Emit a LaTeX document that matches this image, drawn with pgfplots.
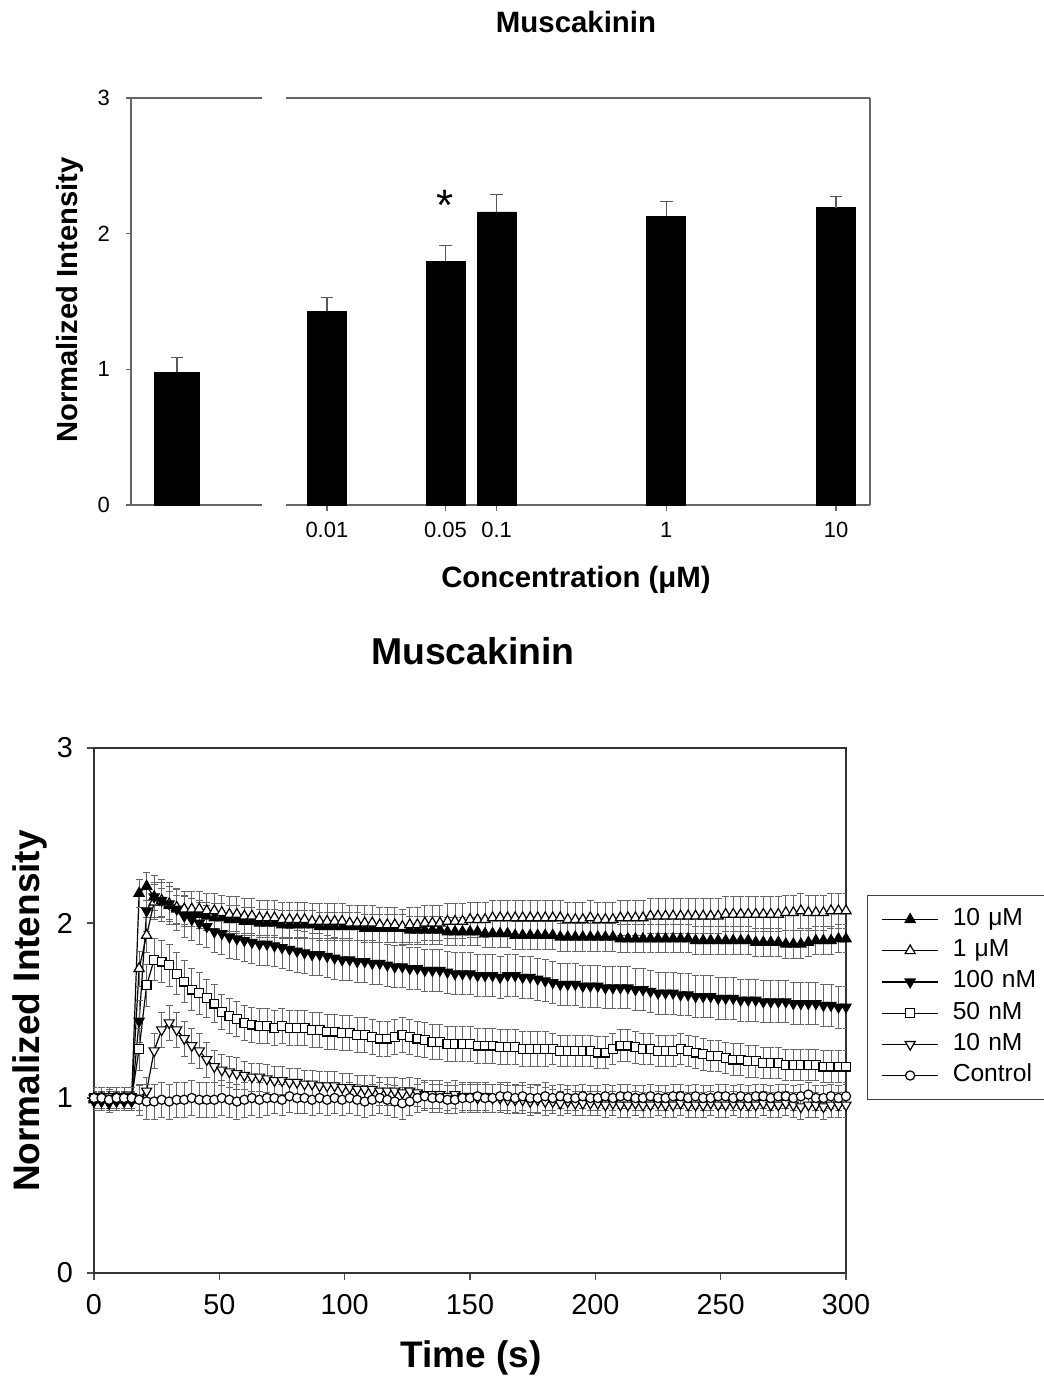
\documentclass[border=0pt]{standalone}
\usepackage{fontspec}
\setmainfont{Liberation Sans}
\usepackage{pgfplots}
\usepackage{pgfplotstable}
\pgfplotsset{compat=1.18}

\pgfplotstableread{
x y e
0.01 1.43 0.10
0.05 1.795 0.115
0.1 2.16 0.13
1 2.13 0.105
10 2.19 0.085
}\bars

\pgfplotstableread{
t c ce a ae b be d de u ue v ve
0 1.00 0.06 1.00 0.06 1.00 0.06 0.98 0.05 1.00 0.06 0.99 0.05
3 1.00 0.06 1.00 0.06 1.00 0.06 0.98 0.05 1.00 0.06 0.99 0.05
6 0.99 0.06 1.00 0.06 1.00 0.06 0.97 0.05 1.00 0.06 0.99 0.05
9 1.00 0.06 1.00 0.06 1.00 0.06 0.98 0.05 1.00 0.06 0.99 0.05
12 1.00 0.06 1.00 0.06 1.00 0.06 0.98 0.05 1.00 0.06 0.99 0.05
15 1.00 0.06 1.00 0.06 1.00 0.06 0.98 0.05 1.00 0.06 0.99 0.05
18 0.99 0.09 1.00 0.07 1.28 0.12 1.44 0.12 1.74 0.10 2.17 0.08
21 0.98 0.10 1.04 0.08 1.645 0.12 2.07 0.12 1.93 0.10 2.21 0.08
24 0.98 0.10 1.27 0.10 1.79 0.12 2.15 0.12 2.12 0.10 2.15 0.08
27 0.99 0.10 1.39 0.10 1.78 0.12 2.13 0.12 2.13 0.10 2.12 0.08
30 0.98 0.10 1.43 0.10 1.76 0.12 2.11 0.12 2.11 0.10 2.10 0.08
33 0.99 0.10 1.39 0.10 1.71 0.12 2.08 0.12 2.09 0.10 2.08 0.08
36 0.99 0.10 1.34 0.10 1.665 0.12 2.04 0.12 2.08 0.10 2.07 0.08
39 1.00 0.10 1.30 0.10 1.62 0.12 2.02 0.12 2.08 0.10 2.06 0.08
42 0.99 0.10 1.27 0.10 1.60 0.12 2.00 0.12 2.08 0.10 2.05 0.08
45 0.99 0.10 1.22 0.10 1.57 0.11 1.98 0.12 2.07 0.10 2.04 0.08
48 0.99 0.10 1.18 0.09 1.54 0.11 1.95 0.12 2.07 0.10 2.03 0.08
51 1.00 0.10 1.16 0.09 1.49 0.10 1.94 0.12 2.06 0.10 2.03 0.08
54 0.99 0.10 1.15 0.09 1.47 0.10 1.92 0.12 2.05 0.10 2.02 0.08
57 0.98 0.10 1.14 0.09 1.45 0.10 1.91 0.12 2.05 0.10 2.02 0.08
60 0.99 0.10 1.13 0.08 1.43 0.10 1.90 0.12 2.04 0.10 2.01 0.08
63 1.00 0.10 1.12 0.08 1.42 0.10 1.89 0.12 2.04 0.10 2.01 0.08
66 0.99 0.10 1.12 0.08 1.41 0.10 1.88 0.12 2.03 0.10 2.00 0.08
69 1.00 0.10 1.11 0.08 1.41 0.10 1.88 0.12 2.03 0.10 2.00 0.08
72 1.00 0.09 1.10 0.08 1.40 0.10 1.87 0.12 2.03 0.10 2.00 0.08
75 0.99 0.09 1.10 0.08 1.41 0.10 1.86 0.12 2.02 0.10 1.99 0.08
78 1.01 0.09 1.09 0.08 1.40 0.10 1.85 0.12 2.02 0.10 1.99 0.08
81 1.00 0.09 1.09 0.08 1.40 0.10 1.84 0.12 2.02 0.10 1.99 0.08
84 1.00 0.09 1.08 0.08 1.40 0.10 1.83 0.12 2.02 0.10 1.99 0.08
87 0.99 0.09 1.08 0.08 1.39 0.10 1.82 0.12 2.01 0.10 1.99 0.08
90 1.00 0.09 1.07 0.08 1.39 0.10 1.82 0.12 2.01 0.10 1.98 0.08
93 0.99 0.09 1.07 0.08 1.38 0.10 1.81 0.12 2.01 0.10 1.98 0.08
96 1.00 0.09 1.07 0.08 1.38 0.10 1.80 0.12 2.01 0.10 1.98 0.08
99 0.99 0.09 1.06 0.08 1.37 0.10 1.79 0.12 2.01 0.10 1.98 0.08
102 1.00 0.09 1.06 0.08 1.37 0.10 1.79 0.12 2.00 0.10 1.98 0.08
105 0.99 0.09 1.05 0.08 1.36 0.10 1.78 0.12 2.00 0.10 1.98 0.08
108 0.98 0.09 1.05 0.08 1.36 0.10 1.78 0.12 2.00 0.10 1.97 0.08
111 0.99 0.09 1.05 0.08 1.35 0.10 1.77 0.12 2.00 0.10 1.97 0.08
114 1.00 0.09 1.04 0.08 1.34 0.10 1.77 0.12 1.99 0.10 1.97 0.08
117 0.99 0.09 1.04 0.08 1.34 0.10 1.76 0.12 1.99 0.10 1.97 0.08
120 0.98 0.09 1.04 0.08 1.35 0.10 1.75 0.12 1.99 0.10 1.97 0.08
123 0.97 0.09 1.03 0.08 1.36 0.10 1.75 0.12 1.98 0.10 1.97 0.08
126 0.98 0.08 1.04 0.08 1.35 0.10 1.74 0.12 1.99 0.10 1.96 0.08
129 1.00 0.08 1.03 0.08 1.34 0.10 1.74 0.12 1.99 0.10 1.96 0.08
132 1.01 0.08 1.02 0.08 1.33 0.10 1.73 0.12 2.00 0.10 1.96 0.08
135 1.00 0.08 1.02 0.08 1.32 0.10 1.73 0.12 2.00 0.10 1.96 0.08
138 1.00 0.08 1.02 0.08 1.32 0.10 1.73 0.12 2.00 0.10 1.96 0.08
141 0.99 0.08 1.01 0.08 1.31 0.10 1.72 0.12 2.01 0.10 1.95 0.08
144 0.99 0.08 1.02 0.08 1.31 0.10 1.71 0.12 2.01 0.10 1.95 0.08
147 1.00 0.08 1.01 0.08 1.31 0.10 1.71 0.12 2.01 0.10 1.95 0.08
150 1.00 0.08 1.01 0.08 1.31 0.10 1.71 0.12 2.02 0.10 1.95 0.08
153 1.01 0.08 1.00 0.08 1.30 0.10 1.70 0.12 2.02 0.10 1.95 0.08
156 1.00 0.08 1.01 0.08 1.30 0.10 1.70 0.12 2.02 0.10 1.94 0.08
159 1.00 0.08 1.00 0.08 1.30 0.10 1.70 0.12 2.03 0.10 1.94 0.08
162 1.01 0.08 1.00 0.08 1.29 0.10 1.69 0.12 2.03 0.10 1.94 0.08
165 1.01 0.08 0.99 0.08 1.29 0.10 1.70 0.12 2.03 0.10 1.94 0.08
168 1.00 0.08 0.99 0.08 1.29 0.10 1.70 0.12 2.03 0.10 1.93 0.08
171 1.01 0.08 0.99 0.08 1.28 0.10 1.69 0.12 2.03 0.10 1.93 0.08
174 1.00 0.08 0.98 0.08 1.28 0.10 1.69 0.12 2.03 0.10 1.93 0.08
177 1.00 0.08 0.99 0.08 1.28 0.10 1.68 0.12 2.03 0.10 1.93 0.08
180 1.01 0.08 0.98 0.08 1.28 0.10 1.67 0.12 2.03 0.10 1.93 0.08
183 1.00 0.07 0.98 0.07 1.28 0.09 1.66 0.12 2.03 0.10 1.93 0.08
186 1.01 0.07 0.97 0.07 1.27 0.09 1.65 0.12 2.03 0.10 1.92 0.08
189 1.00 0.07 0.98 0.07 1.27 0.09 1.65 0.12 2.02 0.10 1.92 0.08
192 1.00 0.07 0.97 0.07 1.27 0.09 1.65 0.12 2.02 0.10 1.92 0.08
195 1.01 0.07 0.97 0.07 1.27 0.09 1.64 0.12 2.02 0.10 1.92 0.08
198 1.00 0.07 0.97 0.07 1.27 0.09 1.64 0.12 2.03 0.10 1.92 0.08
201 1.00 0.07 0.97 0.07 1.26 0.09 1.64 0.12 2.02 0.10 1.92 0.08
204 1.01 0.07 0.96 0.07 1.26 0.09 1.63 0.12 2.02 0.10 1.92 0.08
207 1.00 0.07 0.97 0.07 1.28 0.09 1.63 0.12 2.02 0.10 1.92 0.08
210 1.01 0.07 0.96 0.07 1.30 0.09 1.63 0.12 2.03 0.10 1.91 0.08
213 1.01 0.07 0.96 0.07 1.30 0.09 1.63 0.12 2.03 0.10 1.91 0.08
216 1.00 0.07 0.97 0.07 1.29 0.09 1.62 0.12 2.03 0.10 1.91 0.08
219 1.00 0.07 0.96 0.07 1.28 0.09 1.62 0.12 2.03 0.10 1.91 0.08
222 1.01 0.07 0.96 0.07 1.28 0.09 1.61 0.12 2.04 0.10 1.91 0.08
225 1.00 0.07 0.97 0.07 1.27 0.09 1.60 0.12 2.04 0.10 1.91 0.08
228 1.00 0.07 0.96 0.07 1.27 0.09 1.60 0.12 2.04 0.10 1.91 0.08
231 1.01 0.07 0.96 0.07 1.27 0.09 1.60 0.12 2.04 0.10 1.91 0.08
234 1.01 0.07 0.97 0.07 1.28 0.09 1.59 0.12 2.04 0.10 1.91 0.08
237 1.00 0.07 0.96 0.07 1.27 0.09 1.59 0.12 2.04 0.10 1.91 0.08
240 1.01 0.07 0.96 0.07 1.26 0.09 1.58 0.12 2.04 0.10 1.90 0.08
243 1.00 0.07 0.96 0.07 1.25 0.09 1.58 0.12 2.04 0.10 1.90 0.08
246 1.00 0.07 0.97 0.07 1.24 0.09 1.58 0.12 2.04 0.10 1.90 0.08
249 1.01 0.07 0.96 0.07 1.24 0.09 1.57 0.12 2.04 0.10 1.90 0.08
252 1.01 0.07 0.96 0.07 1.23 0.09 1.57 0.12 2.05 0.10 1.90 0.08
255 1.00 0.07 0.97 0.07 1.22 0.09 1.57 0.12 2.05 0.10 1.90 0.08
258 1.01 0.07 0.96 0.07 1.22 0.09 1.56 0.12 2.05 0.10 1.90 0.08
261 1.00 0.07 0.96 0.07 1.21 0.09 1.56 0.12 2.05 0.10 1.90 0.08
264 1.01 0.07 0.96 0.07 1.21 0.09 1.56 0.12 2.05 0.10 1.89 0.08
267 1.01 0.07 0.97 0.07 1.20 0.09 1.55 0.12 2.05 0.10 1.89 0.08
270 1.00 0.07 0.96 0.07 1.20 0.09 1.55 0.12 2.05 0.10 1.89 0.08
273 1.01 0.07 0.96 0.07 1.20 0.09 1.55 0.12 2.05 0.10 1.89 0.08
276 1.01 0.07 0.97 0.07 1.19 0.09 1.55 0.12 2.06 0.10 1.88 0.08
279 1.00 0.07 0.96 0.07 1.19 0.09 1.54 0.12 2.06 0.10 1.88 0.08
282 1.01 0.07 0.95 0.07 1.19 0.09 1.54 0.12 2.07 0.10 1.88 0.08
285 1.02 0.07 0.96 0.07 1.19 0.09 1.54 0.12 2.06 0.10 1.89 0.08
288 1.00 0.07 0.96 0.07 1.19 0.09 1.54 0.12 2.06 0.10 1.90 0.08
291 1.00 0.07 0.95 0.07 1.18 0.09 1.53 0.12 2.06 0.10 1.90 0.08
294 1.01 0.07 0.96 0.07 1.18 0.09 1.53 0.12 2.07 0.10 1.90 0.08
297 1.00 0.07 0.96 0.07 1.18 0.09 1.52 0.12 2.07 0.10 1.91 0.08
300 1.01 0.07 0.96 0.07 1.18 0.09 1.52 0.12 2.07 0.10 1.91 0.08
}\timecourse

\pgfplotsset{
  tcerr/.style={error bars/.cd, y dir=both, y explicit,
    error bar style={line width=0.45pt, black!60},
    error mark options={rotate=90, mark size=1.75pt, line width=0.45pt, black!60}},
  barerr/.style={error bars/.cd, y dir=plus, y explicit,
    error bar style={line width=0.6pt, black!65},
    error mark options={rotate=90, mark size=3.2pt, line width=0.6pt, black!65}},
}

\begin{document}
\begin{tikzpicture}
\useasboundingbox (0,0) rectangle (522pt,-691pt);

% ---------- top: left panel (control) ----------
\begin{axis}[
  at={(65.5pt,-252.5pt)}, anchor=south west, scale only axis,
  width=65.5pt, height=203.5pt,
  xmin=0, xmax=1, ymin=0, ymax=3,
  axis x line*=bottom, axis y line*=left,
  xtick=\empty, ytick={0,1,2,3},
  tick align=outside, major tick length=2.5pt,
  axis line style={black!60, line width=0.7pt},
  tick style={black!60, line width=0.7pt},
  tick label style={font=\fontsize{11}{12}\selectfont},
  /pgf/number format/assume math mode=true,
  yticklabel style={xshift=-4.5pt},
  clip=false,
]
\addplot[ybar, bar width=22.5pt, fill=black, draw=black, barerr]
  coordinates {(0.351,0.98) +- (0,0.11)};
\draw[black!60, line width=0.7pt] (rel axis cs:0,1) -- (rel axis cs:1,1);
\end{axis}

% ---------- top: right panel (concentrations) ----------
\begin{axis}[
  at={(143pt,-252.5pt)}, anchor=south west, scale only axis,
  width=292pt, height=203.5pt,
  xmode=log, xmin=0.00574, xmax=15.85, ymin=0, ymax=3,
  axis x line*=bottom, axis y line*=right,
  ytick=\empty,
  xtick={0.01,0.05,0.1,1,10}, xticklabels={0.01,0.05,0.1,1,10},
  minor xtick={},
  tick align=outside, major tick length=3pt,
  axis line style={black!60, line width=0.7pt},
  tick style={black!60, line width=0.7pt},
  tick label style={font=\fontsize{11}{12}\selectfont},
  typeset ticklabels with strut,
  xticklabel style={yshift=-1.5pt},
  clip=false,
]
\addplot[ybar, bar width=19.5pt, fill=black, draw=black, barerr]
  table[x=x, y=y, y error=e] {\bars};
\draw[black!60, line width=0.7pt] (rel axis cs:0,1) -- (rel axis cs:1,1);
\node[font=\fontsize{22}{22}\selectfont] at (axis cs:0.05,2.21) {*};
\end{axis}

\node[font=\bfseries\fontsize{14.7}{16}\selectfont] at (288pt,-11pt) {Muscakinin};
\node[font=\bfseries\fontsize{14.7}{16}\selectfont] at (288pt,-290pt) {Concentration (μM)};
\node[font=\bfseries\fontsize{14.6}{16}\selectfont, rotate=90] at (35pt,-150pt) {Normalized Intensity};

% ---------- bottom: time course ----------
\begin{axis}[
  at={(47pt,-636.5pt)}, anchor=south west, scale only axis,
  width=376pt, height=262.5pt,
  xmin=0, xmax=300, ymin=0, ymax=3,
  xtick={0,50,100,150,200,250,300}, ytick={0,1,2,3},
  xtick pos=left, ytick pos=left,
  tick align=outside, major tick length=3.5pt,
  axis line style={black!80, line width=0.7pt},
  tick style={black!70, line width=0.7pt},
  tick label style={font=\fontsize{14.4}{16}\selectfont},
  /pgf/number format/assume math mode=true,
  yticklabel style={xshift=-3.5pt},
  xticklabel style={yshift=-3.5pt},
  legend style={at={(1.028,0.72)}, anchor=north west,
    draw=black!75, line width=0.5pt,
    font=\fontsize{12.3}{14}\selectfont,
    inner xsep=7pt, inner ysep=5pt, row sep=1.6pt,
    nodes={text width=60pt, text height=9pt, text depth=3pt,
           inner ysep=1pt, inner xsep=7pt}},
  legend cell align=left,
  legend image code/.code={\draw[mark repeat=2, mark phase=2, line width=0.6pt]
     plot coordinates {(0pt,0pt) (14pt,0pt) (28pt,0pt)};},
]
\addplot[black, line width=0.6pt, mark=triangle*, mark size=2.9pt,
  mark options={solid, fill=black, draw=black}, tcerr]
  table[x=t, y=v, y error=ve] {\timecourse};
\addlegendentry{10 μM}
\addplot[black, line width=0.6pt, mark=triangle*, mark size=2.9pt,
  mark options={solid, fill=white, draw=black}, tcerr]
  table[x=t, y=u, y error=ue] {\timecourse};
\addlegendentry{1 μM}
\addplot[black, line width=0.6pt, mark=triangle*, mark size=2.9pt,
  mark options={solid, fill=black, draw=black, rotate=180}, tcerr]
  table[x=t, y=d, y error=de] {\timecourse};
\addlegendentry{100 nM}
\addplot[black, line width=0.6pt, mark=square*, mark size=2.2pt,
  mark options={solid, fill=white, draw=black}, tcerr]
  table[x=t, y=b, y error=be] {\timecourse};
\addlegendentry{50 nM}
\addplot[black, line width=0.6pt, mark=triangle*, mark size=2.9pt,
  mark options={solid, fill=white, draw=black, rotate=180}, tcerr]
  table[x=t, y=a, y error=ae] {\timecourse};
\addlegendentry{10 nM}
\addplot[black, line width=0.6pt, mark=*, mark size=2.3pt,
  mark options={solid, fill=white, draw=black}, tcerr]
  table[x=t, y=c, y error=ce] {\timecourse};
\addlegendentry{Control}
\end{axis}

\node[font=\bfseries\fontsize{18.7}{20}\selectfont] at (236.5pt,-325.5pt) {Muscakinin};
\node[font=\bfseries\fontsize{18.5}{20}\selectfont] at (235.5pt,-679pt) {Time (s)};
\node[font=\bfseries\fontsize{18.5}{20}\selectfont, rotate=90] at (15pt,-505.5pt) {Normalized Intensity};
\end{tikzpicture}
\end{document}
